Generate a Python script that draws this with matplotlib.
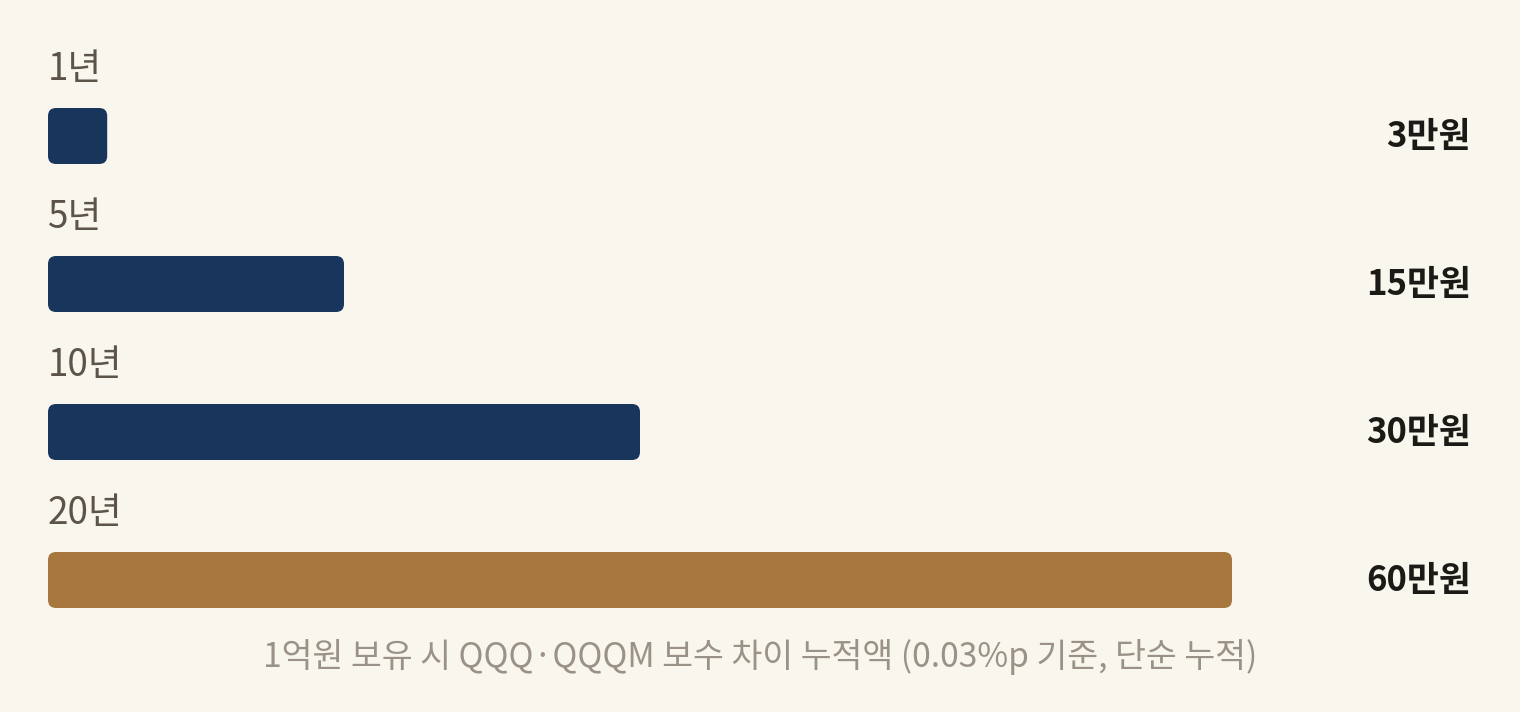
import matplotlib.pyplot as plt
from matplotlib.patches import FancyBboxPatch

plt.rcParams['font.family'] = ['Noto Sans CJK KR', 'DejaVu Sans']

# ==============================
# Data
# ==============================
years = ["1년", "5년", "10년", "20년"]
values = [3, 15, 30, 60]
value_labels = ["3만원", "15만원", "30만원", "60만원"]
bar_colors = ["#18365b", "#18365b", "#18365b", "#a87740"]
caption = "1억원 보유 시 QQQ·QQQM 보수 차이 누적액 (0.03%p 기준, 단순 누적)"

# ==============================
# Layout (pixel based)
# ==============================
W, H = 1520, 712
bg = "#f9f6ee"
left_px = 48
px_per_unit = 1184 / 60
row_px = 148
first_center_px = 136
bar_h_px = 56

fig = plt.figure(figsize=(W / 100, H / 100), dpi=100, facecolor=bg)
ax = fig.add_axes([0, 0, 1, 1])
ax.set_facecolor(bg)
ax.set_xlim(-left_px / px_per_unit, (W - left_px) / px_per_unit)
ax.set_ylim((H - first_center_px) / row_px, -first_center_px / row_px)
ax.axis("off")

bar_h = bar_h_px / row_px
bars = ax.barh(range(len(values)), values, height=bar_h, color="none")

x_unit = 1 / px_per_unit
y_unit = 1 / row_px
for b, c in zip(bars, bar_colors):
    b.set_visible(False)
    patch = FancyBboxPatch(
        (b.get_x(), b.get_y()), b.get_width(), b.get_height(),
        boxstyle="round,pad=0,rounding_size=%f" % (8 * x_unit),
        mutation_aspect=y_unit / x_unit,
        facecolor=c, edgecolor="none",
    )
    ax.add_patch(patch)

for i, (yr, lab) in enumerate(zip(years, value_labels)):
    ax.text(0, i - 66 / row_px, yr, fontsize=26.5, color="#5c5448",
            ha="left", va="center", fontweight="light")
    ax.text((1471 - left_px) / px_per_unit, i, lab, fontsize=25,
            color="#1c1a17", ha="right", va="center", fontweight="bold")

fig.text(0.5, 1 - 657 / H, caption, fontsize=24.2, color="#9a9286",
         ha="center", va="center", fontweight="light")

fig.savefig("out.png", dpi=100, facecolor=bg)
